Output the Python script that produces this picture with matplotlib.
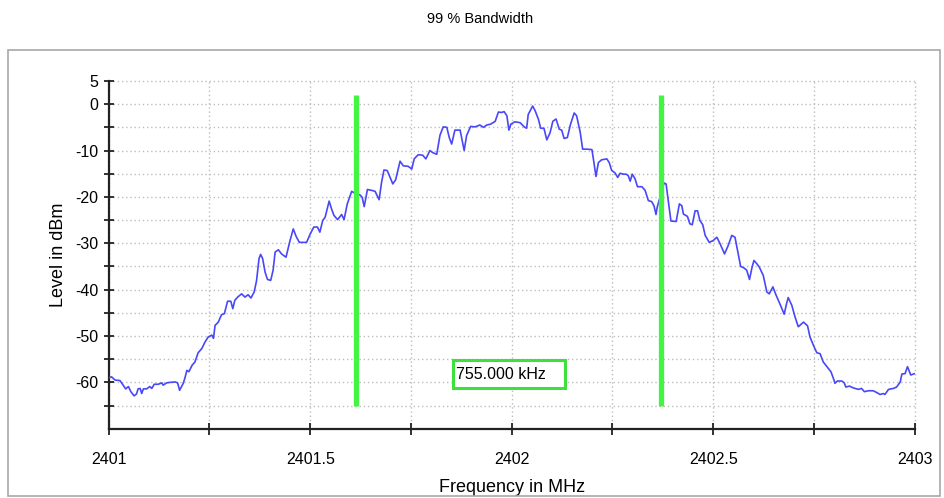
import matplotlib
matplotlib.use("Agg")
import matplotlib.pyplot as plt
from matplotlib.patches import Rectangle
import numpy as np

plt.rcParams['font.family'] = ['Liberation Sans', 'DejaVu Sans']
plt.rcParams['axes.unicode_minus'] = False

# spectrum trace (MHz, dBm)
freq = [2401.000, 2401.007, 2401.016, 2401.028, 2401.036, 2401.042, 2401.049, 2401.055, 2401.063, 2401.069,
        2401.073, 2401.078, 2401.082, 2401.086, 2401.094, 2401.102, 2401.107, 2401.113, 2401.123, 2401.132,
        2401.135, 2401.144, 2401.152, 2401.165, 2401.171, 2401.176, 2401.185, 2401.189, 2401.194, 2401.199,
        2401.207, 2401.214, 2401.222, 2401.231, 2401.239, 2401.247, 2401.256, 2401.260, 2401.264, 2401.272,
        2401.280, 2401.287, 2401.295, 2401.303, 2401.308, 2401.313, 2401.320, 2401.330, 2401.338, 2401.346,
        2401.353, 2401.361, 2401.367, 2401.373, 2401.377, 2401.382, 2401.388, 2401.394, 2401.402, 2401.408,
        2401.413, 2401.421, 2401.429, 2401.440, 2401.450, 2401.458, 2401.465, 2401.473, 2401.491, 2401.500,
        2401.509, 2401.518, 2401.524, 2401.531, 2401.537, 2401.547, 2401.553, 2401.559, 2401.568, 2401.578,
        2401.584, 2401.592, 2401.603, 2401.611, 2401.624, 2401.629, 2401.634, 2401.642, 2401.653, 2401.661,
        2401.671, 2401.677, 2401.683, 2401.691, 2401.705, 2401.712, 2401.723, 2401.731, 2401.743, 2401.752,
        2401.758, 2401.768, 2401.779, 2401.787, 2401.797, 2401.805, 2401.814, 2401.822, 2401.830, 2401.839,
        2401.845, 2401.851, 2401.859, 2401.872, 2401.882, 2401.888, 2401.898, 2401.909, 2401.921, 2401.930,
        2401.938, 2401.948, 2401.959, 2401.967, 2401.975, 2401.981, 2401.988, 2401.993, 2401.998, 2402.008,
        2402.021, 2402.031, 2402.037, 2402.041, 2402.052, 2402.058, 2402.066, 2402.072, 2402.080, 2402.087,
        2402.095, 2402.102, 2402.110, 2402.118, 2402.124, 2402.130, 2402.138, 2402.146, 2402.155, 2402.161,
        2402.170, 2402.176, 2402.186, 2402.199, 2402.204, 2402.209, 2402.215, 2402.223, 2402.236, 2402.242,
        2402.248, 2402.256, 2402.263, 2402.269, 2402.277, 2402.284, 2402.289, 2402.294, 2402.299, 2402.306,
        2402.312, 2402.323, 2402.331, 2402.339, 2402.347, 2402.353, 2402.358, 2402.361, 2402.378, 2402.383,
        2402.389, 2402.395, 2402.408, 2402.416, 2402.422, 2402.426, 2402.436, 2402.442, 2402.448, 2402.455,
        2402.461, 2402.467, 2402.474, 2402.480, 2402.490, 2402.500, 2402.509, 2402.517, 2402.528, 2402.537,
        2402.546, 2402.554, 2402.562, 2402.568, 2402.576, 2402.583, 2402.590, 2402.596, 2402.601, 2402.608,
        2402.614, 2402.624, 2402.633, 2402.639, 2402.648, 2402.656, 2402.667, 2402.676, 2402.682, 2402.686,
        2402.695, 2402.703, 2402.711, 2402.724, 2402.734, 2402.740, 2402.750, 2402.757, 2402.765, 2402.773,
        2402.782, 2402.792, 2402.798, 2402.802, 2402.808, 2402.819, 2402.825, 2402.829, 2402.838, 2402.848,
        2402.860, 2402.868, 2402.875, 2402.885, 2402.897, 2402.906, 2402.914, 2402.922, 2402.926, 2402.935,
        2402.947, 2402.955, 2402.964, 2402.968, 2402.976, 2402.982, 2402.990, 2403.000]
level = [-59.0, -58.8, -59.5, -59.6, -60.6, -61.4, -60.9, -62.0, -62.9, -62.5,
         -61.4, -61.3, -62.4, -61.4, -61.4, -60.9, -61.3, -60.4, -60.4, -60.1,
         -60.6, -60.1, -60.0, -59.9, -60.1, -61.7, -60.2, -59.1, -57.4, -57.7,
         -56.3, -55.6, -53.6, -52.7, -51.3, -50.2, -49.8, -50.5, -47.7, -47.0,
         -45.4, -45.2, -42.5, -42.5, -44.1, -42.3, -41.6, -40.9, -41.6, -41.1,
         -41.8, -40.5, -38.0, -33.3, -32.4, -33.3, -36.2, -37.8, -38.0, -35.8,
         -31.9, -31.4, -32.3, -33.0, -29.4, -26.9, -28.5, -29.8, -29.8, -28.0,
         -26.5, -26.5, -27.6, -25.1, -24.4, -20.9, -22.6, -24.0, -24.9, -23.8,
         -24.9, -21.5, -18.8, -19.2, -19.6, -20.1, -22.1, -18.4, -18.6, -18.8,
         -20.6, -16.9, -14.2, -14.3, -17.2, -16.3, -12.3, -13.3, -13.4, -14.0,
         -11.8, -10.9, -11.0, -11.8, -10.0, -10.5, -10.8, -6.7, -4.9, -5.0,
         -7.2, -8.6, -5.6, -5.6, -10.0, -6.8, -4.8, -4.9, -4.5, -5.0,
         -4.5, -4.3, -3.7, -1.7, -1.8, -1.6, -2.5, -5.6, -4.3, -3.8,
         -4.0, -4.9, -5.2, -2.2, -0.4, -1.4, -3.2, -5.2, -5.2, -7.7,
         -6.2, -3.7, -3.2, -5.4, -5.6, -7.4, -7.2, -4.3, -1.9, -2.5,
         -6.1, -9.7, -9.7, -9.8, -12.6, -15.6, -12.6, -12.0, -11.8, -12.6,
         -14.3, -14.8, -15.8, -14.9, -15.1, -15.1, -15.4, -16.6, -15.1, -16.1,
         -17.8, -17.8, -18.6, -20.8, -21.0, -21.9, -23.8, -22.2, -17.0, -17.2,
         -21.2, -25.2, -25.3, -21.5, -21.9, -23.7, -24.2, -25.8, -26.0, -23.0,
         -23.0, -25.1, -26.0, -28.3, -29.8, -29.4, -28.7, -30.1, -32.3, -30.5,
         -28.3, -28.7, -32.3, -35.0, -35.3, -35.8, -37.8, -35.3, -33.7, -34.4,
         -35.1, -36.9, -40.5, -40.9, -39.4, -41.2, -43.4, -45.3, -43.0, -41.7,
         -43.4, -45.9, -48.0, -47.0, -47.8, -50.2, -52.3, -53.6, -53.8, -55.6,
         -56.6, -57.7, -59.1, -60.2, -59.7, -59.7, -60.1, -61.0, -60.8, -61.2,
         -61.5, -61.3, -62.0, -61.8, -61.8, -62.2, -62.6, -62.4, -62.6, -61.5,
         -61.3, -61.0, -59.9, -58.2, -58.1, -56.6, -58.4, -58.1]

# 99 % occupied bandwidth edges (MHz)
obw_low = 2401.6145
obw_high = 2402.3695

x_ticks = np.arange(2401.0, 2403.01, 0.25)
x_labels = ['2401', '', '2401.5', '', '2402', '', '2402.5', '', '2403']
y_ticks = np.arange(-65, 6, 5)
y_labels = ['', '-60', '', '-50', '', '-40', '', '-30', '', '-20', '', '-10', '', '0', '5']

fig = plt.figure(figsize=(9.45, 4.98), dpi=100)
fig.patches.append(Rectangle((8 / 945, 1 - 496 / 498), 932 / 945, 446 / 498, transform=fig.transFigure,
                             fill=False, edgecolor='#a8a8a8', linewidth=1.2))
fig.text(0.508, 0.962, '99 % Bandwidth', ha='center', va='center', fontsize=10.5)

ax = fig.add_axes([0.115, 0.139, 0.853, 0.6984])
ax.plot(freq, level, color='#4848f8', linewidth=1.2, zorder=3)
ax.vlines([obw_low, obw_high], -65, 2, color='#44f444', linewidth=3.8, zorder=4)

bw_text = '%.3f kHz' % ((obw_high - obw_low) * 1000)
ax.add_patch(Rectangle((2401.855, -61.2), 0.277, 6.1, facecolor='white', edgecolor='#3ee03e',
                       linewidth=2.2, zorder=5))
ax.text(2401.862, -58.2, bw_text, ha='left', va='center', fontsize=11.5, zorder=6)

ax.set_xlim(2401, 2403)
ax.set_ylim(-70, 5)
ax.set_xticks(x_ticks)
ax.set_xticklabels(x_labels)
ax.set_yticks(y_ticks)
ax.set_yticklabels(y_labels)
ax.tick_params(axis='both', direction='inout', length=8, width=1.3, labelsize=11.5, color='#222222')
ax.tick_params(axis='x', pad=13)
ax.tick_params(axis='y', length=7, pad=4)
ax.grid(True, color='#bdbdbd', linestyle=(0, (1, 2)), linewidth=1.0, clip_on=False)
ax.set_axisbelow(True)
for s in ['top', 'right']:
    ax.spines[s].set_visible(False)
for s in ['left', 'bottom']:
    ax.spines[s].set_linewidth(1.6)
    ax.spines[s].set_color('#222222')

ax.set_xlabel('Frequency in MHz', fontsize=13, labelpad=8)
ax.set_ylabel('Level in dBm', fontsize=13, labelpad=6)

plt.savefig('out.png', dpi=100)
